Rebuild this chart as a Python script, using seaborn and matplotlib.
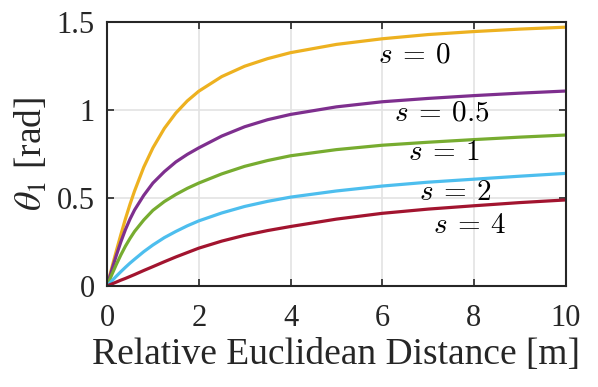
import matplotlib
matplotlib.use("Agg")
import matplotlib.pyplot as plt
import seaborn as sns
import pandas as pd

# Data
distance = [0, 0.1, 0.2, 0.3, 0.4, 0.5, 0.6, 0.8, 1, 1.25, 1.5, 1.75, 2, 2.5, 3, 3.5, 4, 5, 6, 7, 8, 9, 10]
theta_s0 = [0, 0.100, 0.197, 0.291, 0.381, 0.464, 0.540, 0.675, 0.785, 0.896, 0.983, 1.052, 1.107,
            1.190, 1.249, 1.292, 1.326, 1.373, 1.405, 1.429, 1.446, 1.460, 1.471]
theta_s05 = [0, 0.088, 0.172, 0.250, 0.320, 0.380, 0.432, 0.515, 0.585, 0.650, 0.705, 0.748, 0.785,
             0.852, 0.905, 0.945, 0.975, 1.018, 1.047, 1.066, 1.082, 1.096, 1.108]
theta_s1 = [0, 0.062, 0.121, 0.176, 0.226, 0.270, 0.310, 0.375, 0.430, 0.480, 0.520, 0.555, 0.585,
            0.637, 0.680, 0.713, 0.740, 0.775, 0.800, 0.817, 0.832, 0.846, 0.858]
theta_s2 = [0, 0.028, 0.055, 0.081, 0.106, 0.130, 0.152, 0.195, 0.233, 0.275, 0.310, 0.342, 0.370,
            0.415, 0.452, 0.481, 0.505, 0.540, 0.568, 0.590, 0.607, 0.624, 0.640]
theta_s4 = [0, 0.011, 0.022, 0.033, 0.043, 0.054, 0.065, 0.088, 0.110, 0.138, 0.165, 0.190, 0.215,
            0.255, 0.288, 0.315, 0.338, 0.380, 0.413, 0.437, 0.456, 0.474, 0.489]
series_labels = ["0", "0.5", "1", "2", "4"]
x_ticks = [0, 2, 4, 6, 8, 10]
y_ticks = [0, 0.5, 1, 1.5]
y_tick_labels = ["0", "0.5", "1", "1.5"]

colors = ["#EDB120", "#7E2F8E", "#77AC30", "#4DBEEE", "#A2142F"]
label_pos = [(6.7, 1.31), (7.3, 0.98), (7.35, 0.755), (7.6, 0.53), (7.9, 0.34)]

rows = []
for lab, vals in zip(series_labels, [theta_s0, theta_s05, theta_s1, theta_s2, theta_s4]):
    for d, v in zip(distance, vals):
        rows.append({"d": d, "theta": v, "s": lab})
df = pd.DataFrame(rows)

sns.set_theme(style="whitegrid")
plt.rcParams["font.family"] = ["Liberation Serif", "DejaVu Serif"]
plt.rcParams["mathtext.fontset"] = "stix"

fig = plt.figure(figsize=(5.98, 3.87), dpi=100)
ax = fig.add_axes([0.179, 0.261, 0.767, 0.682])

sns.lineplot(data=df, x="d", y="theta", hue="s", palette=colors, linewidth=2.3,
             legend=False, ax=ax)

for lab, (tx, ty) in zip(series_labels, label_pos):
    ax.text(tx, ty, r"$s\:=\:%s$" % lab, fontsize=21, ha="center", va="center",
            color="black", math_fontfamily="cm")

ax.set_xlim(0, 10)
ax.set_ylim(0, 1.5)
ax.set_xticks(x_ticks)
ax.set_yticks(y_ticks)
ax.set_yticklabels(y_tick_labels)
ax.tick_params(axis="both", labelsize=22, direction="in", length=5, width=1.2,
               color="#262626", labelcolor="#262626", top=True, right=True,
               bottom=True, left=True)
ax.tick_params(axis="x", pad=13)
ax.tick_params(axis="y", pad=9)
ax.grid(True, color="#e3e3e3", linewidth=1.2)
for sp in ax.spines.values():
    sp.set_color("#262626")
    sp.set_linewidth(1.5)
ax.set_facecolor("white")
ax.set_xlabel("Relative Euclidean Distance [m]", fontsize=27, color="#262626", labelpad=3)
ax.set_ylabel(r"$\theta_1$ [rad]", fontsize=27, color="#262626", labelpad=5)

fig.savefig("out.png", dpi=100, facecolor="white")
